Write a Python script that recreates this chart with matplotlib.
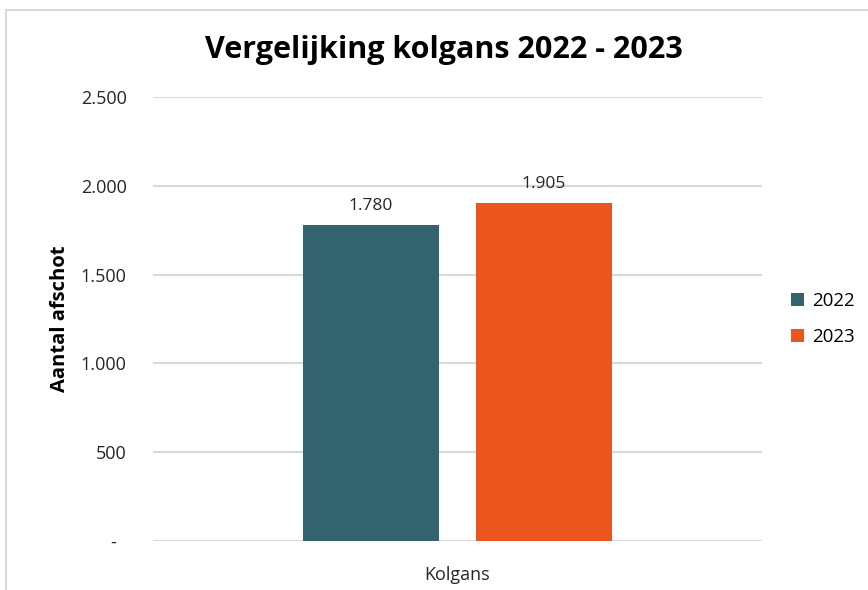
import matplotlib
matplotlib.use("Agg")
import matplotlib.pyplot as plt
from matplotlib.patches import Rectangle

plt.rcParams["font.family"] = ["Open Sans", "DejaVu Sans"]

# data
category = ["Kolgans"]
years = ["2022", "2023"]
values = [1780, 1905]
colors = ["#33636F", "#EA561E"]
yticks = [0, 500, 1000, 1500, 2000, 2500]
ytick_labels = ["-", "500", "1.000", "1.500", "2.000", "2.500"]

fig = plt.figure(figsize=(8.68, 5.9), dpi=100)
ax = fig.add_axes([153 / 868, 1 - 541 / 590, 609 / 868, 444 / 590])

# chart frame (cropped on right/bottom)
fig.patches.append(Rectangle((6 / 868, -0.1), 1.2, 1 - 10 / 590 + 0.1,
                             transform=fig.transFigure, fill=False,
                             edgecolor="#D9D9D9", linewidth=1.5))

width = 0.223
offsets = [-0.142, 0.142]
for yr, v, c, off in zip(years, values, colors, offsets):
    ax.bar(off, v, width=width, color=c, label=yr, zorder=3)
    ax.text(off, v + 60, f"{v:,}".replace(",", "."), ha="center", va="bottom",
            fontsize=12.5, color="#262626")

ax.set_xlim(-0.5, 0.5)
ax.set_ylim(0, 2500)
ax.set_yticks(yticks)
ax.set_yticklabels([l if l != "-" else "-  " for l in ytick_labels])
ax.set_xticks([0])
ax.set_xticklabels(category)
ax.tick_params(length=0, labelsize=13, labelcolor="#262626")
ax.tick_params(axis="y", pad=19)
ax.tick_params(axis="x", pad=18)
ax.yaxis.grid(True, color="#D9D9D9", linewidth=1.5, zorder=0)
for s in ax.spines.values():
    s.set_visible(False)

ax.set_ylabel("Aantal afschot", fontsize=14.5, fontweight="bold", labelpad=8)

fig.text(444 / 868, 1 - 50 / 590, "Vergelijking kolgans 2022 - 2023",
         ha="center", va="center", fontsize=22, fontweight="bold")

ax.legend(loc="center left", bbox_to_anchor=(1.02, 0.5), frameon=False,
          fontsize=13.5, handlelength=0.7, handleheight=0.7, labelspacing=1.0,
          handletextpad=0.4)

fig.savefig("out.png", dpi=100)
